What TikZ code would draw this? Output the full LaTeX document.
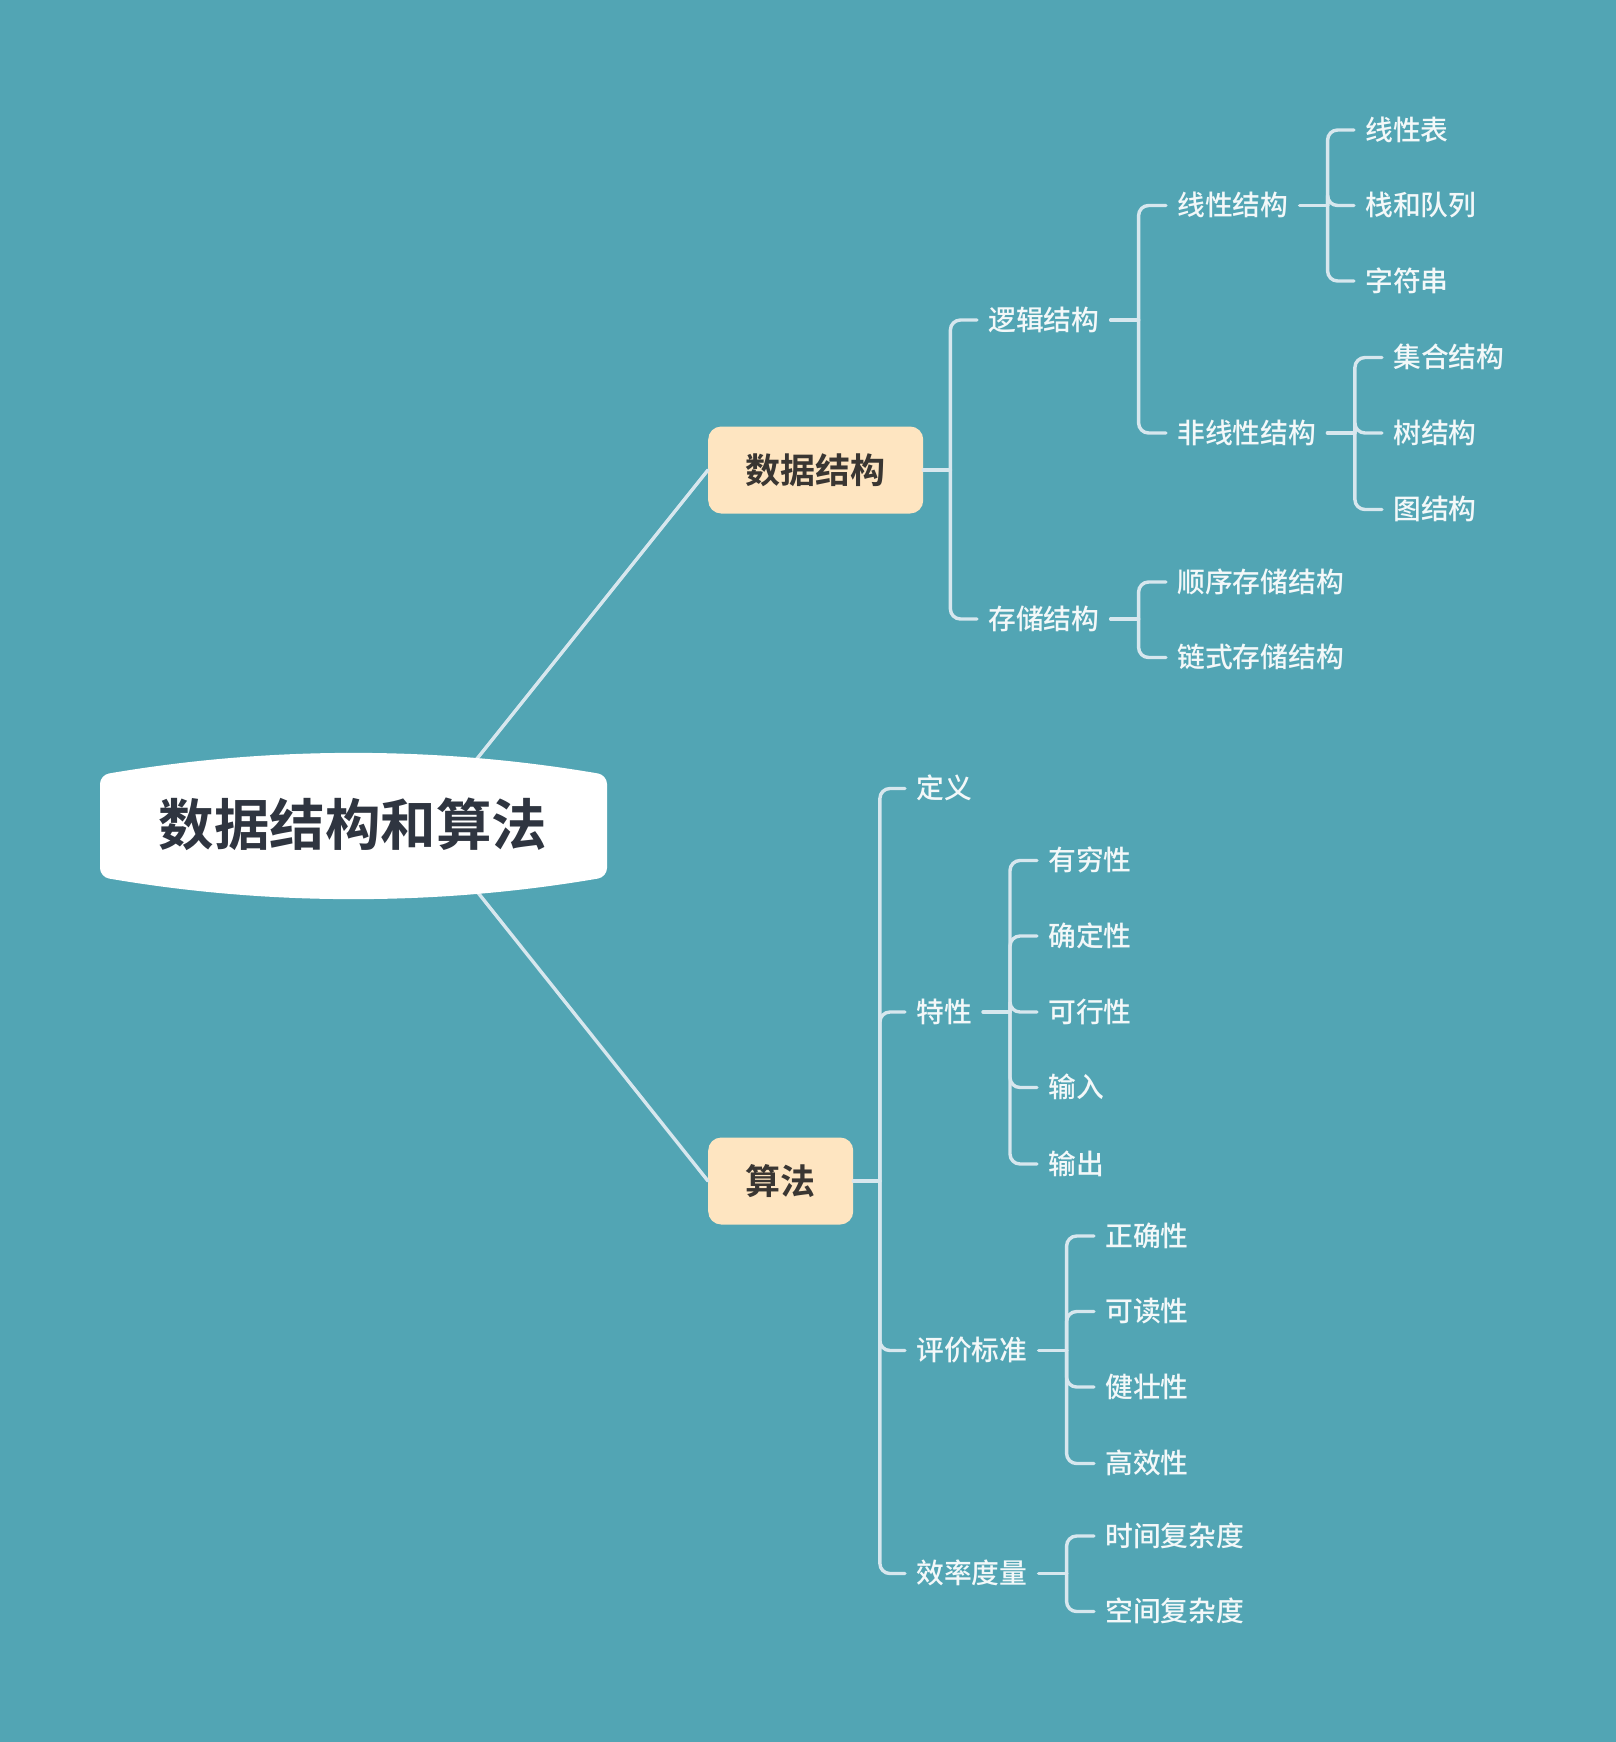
\documentclass[tikz,border=0pt]{standalone}
\usepackage{fontspec}
\setmainfont{Noto Sans CJK SC}[UprightFont=* Medium,BoldFont=* Bold]
\usepackage{tikz}
\definecolor{DSTeal}{HTML}{52A5B4}
\definecolor{DSLine}{HTML}{D7E7EE}
\definecolor{DSPeach}{HTML}{FEE5C1}
\definecolor{DSInk}{HTML}{3A3632}
\definecolor{DSRoot}{HTML}{2F3540}
\definecolor{DSText}{HTML}{F3F8F9}

\begin{document}
\begin{tikzpicture}[x=1pt,y=-1pt,
  branch/.style={DSLine,line width=3.4pt,line cap=round,rounded corners=10pt},
  topic/.style={anchor=west,fill=DSPeach,text=DSInk,rounded corners=13pt,inner xsep=37.5pt,inner ysep=0pt,
    minimum height=87pt,text height=28pt,text depth=1.75pt,font=\fontsize{35}{40}\selectfont\bfseries},
  leaf/.style={anchor=west,text=DSText,inner xsep=11pt,inner ysep=0pt,text height=22.2pt,text depth=1.4pt,
    font=\fontsize{27.8}{30}\selectfont}]
\path[use as bounding box] (0,0) rectangle (1616,1742);
\fill[DSTeal] (0,0) rectangle (1616,1742);
% main topics
\node[topic] (ds) at (708,470) {数据结构};
\node[topic] (alg) at (708,1181) {算法};
\coordinate (hub) at (424,825);
\draw[branch] (hub) -- (ds.west);
\draw[branch] (hub) -- (alg.west);
% central topic
\fill[white,rounded corners=9pt] (100,775) .. controls (269,746) and (438,746) .. (607,775) -- (607,877)
  .. controls (438,906) and (269,906) .. (100,877) -- cycle;
\node[text=DSRoot,inner sep=0pt,text height=44.4pt,text depth=2.8pt,font=\fontsize{55.5}{60}\selectfont\bfseries]
  (root) at (353,825) {数据结构和算法};
% data structures
\node[leaf] (lj) at (977,320) {逻辑结构};
\node[leaf] (cc) at (977,619) {存储结构};
\path (ds.east) ++(27,0) coordinate (tds);
\draw[branch] (ds.east) -- (tds);
\draw[branch] (tds) |- (lj.west);
\draw[branch] (tds) |- (cc.west);
\node[leaf] (xx) at (1166,205.5) {线性结构};
\node[leaf] (fx) at (1166,433) {非线性结构};
\path (lj.east) ++(28,0) coordinate (tlj);
\draw[branch] (lj.east) -- (tlj);
\draw[branch] (tlj) |- (xx.west);
\draw[branch] (tlj) |- (fx.west);
\node[leaf] (xxa) at (1354,130) {线性表};
\node[leaf] (xxb) at (1354,205.5) {栈和队列};
\node[leaf] (xxc) at (1354,281) {字符串};
\path (xx.east) ++(28,0) coordinate (txx);
\draw[branch] (xx.east) -- (txx);
\draw[branch] (txx) |- (xxa.west);
\draw[branch] (txx) |- (xxb.west);
\draw[branch] (txx) |- (xxc.west);
\node[leaf] (fxa) at (1382,357.5) {集合结构};
\node[leaf] (fxb) at (1382,433) {树结构};
\node[leaf] (fxc) at (1382,509.5) {图结构};
\path (fx.east) ++(27.5,0) coordinate (tfx);
\draw[branch] (fx.east) -- (tfx);
\draw[branch] (tfx) |- (fxa.west);
\draw[branch] (tfx) |- (fxb.west);
\draw[branch] (tfx) |- (fxc.west);
\node[leaf] (cca) at (1166,582) {顺序存储结构};
\node[leaf] (ccb) at (1166,657.5) {链式存储结构};
\path (cc.east) ++(28,0) coordinate (tcc);
\draw[branch] (cc.east) -- (tcc);
\draw[branch] (tcc) |- (cca.west);
\draw[branch] (tcc) |- (ccb.west);
% algorithms
\node[leaf] (dy) at (905,788.5) {定义};
\node[leaf] (tx) at (905,1012) {特性};
\node[leaf] (pj) at (905,1350.5) {评价标准};
\node[leaf] (xl) at (905,1573.5) {效率度量};
\path (alg.east) ++(26.5,0) coordinate (talg);
\draw[branch] (alg.east) -- (talg);
\draw[branch] (talg) |- (dy.west);
\draw[branch] (talg) |- (tx.west);
\draw[branch] (talg) |- (pj.west);
\draw[branch] (talg) |- (xl.west);
\node[leaf] (txa) at (1037,860.5) {有穷性};
\node[leaf] (txb) at (1037,936) {确定性};
\node[leaf] (txc) at (1037,1012) {可行性};
\node[leaf] (txd) at (1037,1087.5) {输入};
\node[leaf] (txe) at (1037,1164) {输出};
\path (tx.east) ++(27,0) coordinate (ttx);
\draw[branch] (tx.east) -- (ttx);
\draw[branch] (ttx) |- (txa.west);
\draw[branch] (ttx) |- (txb.west);
\draw[branch] (ttx) |- (txc.west);
\draw[branch] (ttx) |- (txd.west);
\draw[branch] (ttx) |- (txe.west);
\node[leaf] (pja) at (1094,1236) {正确性};
\node[leaf] (pjb) at (1094,1311.5) {可读性};
\node[leaf] (pjc) at (1094,1387) {健壮性};
\node[leaf] (pjd) at (1094,1463.5) {高效性};
\path (pj.east) ++(28,0) coordinate (tpj);
\draw[branch] (pj.east) -- (tpj);
\draw[branch] (tpj) |- (pja.west);
\draw[branch] (tpj) |- (pjb.west);
\draw[branch] (tpj) |- (pjc.west);
\draw[branch] (tpj) |- (pjd.west);
\node[leaf] (xla) at (1094,1536) {时间复杂度};
\node[leaf] (xlb) at (1094,1611.5) {空间复杂度};
\path (xl.east) ++(28,0) coordinate (txl);
\draw[branch] (xl.east) -- (txl);
\draw[branch] (txl) |- (xla.west);
\draw[branch] (txl) |- (xlb.west);
\end{tikzpicture}
\end{document}
